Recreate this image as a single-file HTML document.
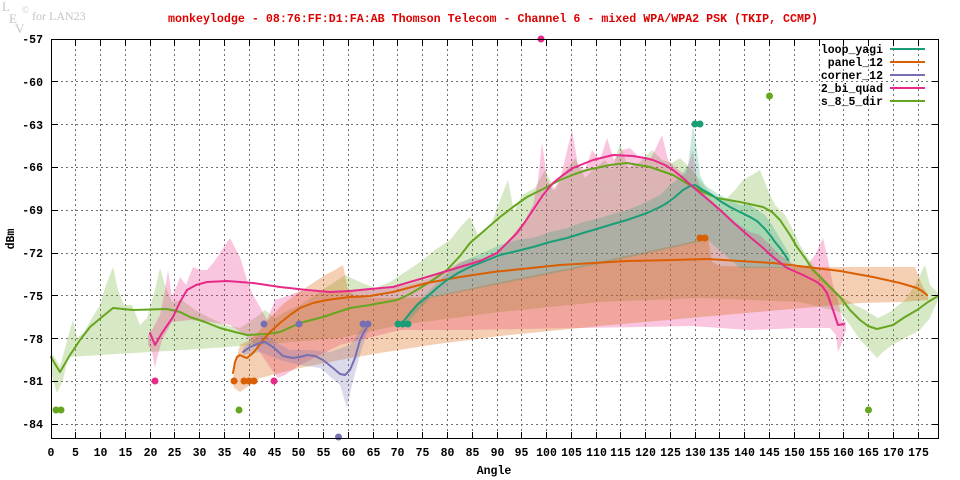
<!DOCTYPE html>
<html><head><meta charset="utf-8"><style>
html,body{margin:0;padding:0;background:#fff;}
svg{display:block;}
.t{font-family:"Liberation Mono",monospace;font-weight:bold;font-size:11.5px;fill:#000;}
</style></head><body>
<svg width="960" height="480" viewBox="0 0 960 480" xmlns="http://www.w3.org/2000/svg">
<rect width="960" height="480" fill="#fff"/>
<!-- logo -->
<g font-family="Liberation Serif, serif" fill="#c4c4c4">
<text x="2" y="11" font-size="13">L</text>
<text x="9" y="23" font-size="13">E</text>
<text x="15" y="33" font-size="13">V</text>
<text x="22" y="13" font-size="9">©</text>
<text x="32" y="20" font-size="12">for LAN23</text>
</g>
<!-- title -->
<text x="168" y="22" textLength="650" lengthAdjust="spacingAndGlyphs" font-family="Liberation Mono, monospace" font-weight="bold" font-size="11.5" fill="#dd0000">monkeylodge - 08:76:FF:D1:FA:AB Thomson Telecom - Channel 6 - mixed WPA/WPA2 PSK (TKIP, CCMP)</text>

<!-- grid -->
<g stroke="#707070" stroke-width="1" stroke-dasharray="2,3" shape-rendering="crispEdges">
<path d="M75.5 39V438M100.5 39V438M125.5 39V438M150.5 39V438M174.5 39V438M199.5 39V438M224.5 39V438M249.5 39V438M274.5 39V438M298.5 39V438M323.5 39V438M348.5 39V438M373.5 39V438M397.5 39V438M422.5 39V438M447.5 39V438M472.5 39V438M497.5 39V438M521.5 39V438M546.5 39V438M571.5 39V438M596.5 39V438M620.5 39V438M645.5 39V438M670.5 39V438M695.5 39V438M719.5 39V438M744.5 39V438M769.5 39V438M794.5 39V438M819.5 39V438M843.5 39V438M868.5 39V438M893.5 39V438M918.5 39V438"/>
<path d="M51 81.5H938M51 124.5H938M51 167.5H938M51 210.5H938M51 253.5H938M51 295.5H938M51 338.5H938M51 381.5H938M51 424.5H938"/>
</g>

<!-- fills -->
<g stroke="none">
<polygon fill="#66a61e" fill-opacity="0.26" points="51,352 55,358 60,366 66,345 70,330 73,320 77,338 84,332 92,318 100,305 106,285 113,267 118,290 124,305 132,305 140,325 147,318 155,290 160,268 165,285 172,302 182,300 195,310 210,318 225,325 240,328 255,318 265,310 275,318 285,312 300,305 315,295 330,285 345,275 360,282 375,288 390,282 405,272 420,262 435,250 450,240 462,225 470,217 478,235 490,228 500,200 508,180 514,212 522,195 535,188 545,170 555,190 565,172 575,158 585,178 595,168 605,160 612,170 620,143 628,168 640,162 652,150 662,160 672,163 680,158 690,168 700,180 712,195 725,200 735,190 743,180 752,175 760,170 768,190 775,205 785,215 793,230 800,245 808,258 818,272 830,285 842,297 855,305 865,310 878,318 890,312 905,300 915,285 925,265 930,285 938,293 938,300 930,318 920,330 905,338 892,345 883,352 877,358 870,350 860,340 850,325 840,312 800,302 700,298 600,302 500,312 400,325 340,338 280,343 240,346 200,349 150,352 100,355 68,357 63,380 57,393 53,380 51,370"/>
<polygon fill="#e7298a" fill-opacity="0.27" points="148,335 152,330 160,315 165,290 168,270 172,297 177,285 180,277 186,285 193,267 200,270 207,270 214,262 220,253 225,245 230,238 235,248 240,257 247,280 253,295 260,307 267,320 275,300 290,295 300,291 330,293 350,292 370,290 393,288 410,284 427,279 445,272 460,262 475,258 487,260 497,252 507,245 515,232 525,220 533,205 538,180 542,142 547,180 553,190 560,180 566,155 572,130 578,165 585,170 592,150 600,160 607,138 614,160 622,150 630,148 640,158 650,160 656,148 662,135 668,160 676,168 685,175 693,150 697,180 705,195 720,208 735,222 750,232 760,235 770,245 780,255 795,265 805,268 815,255 823,238 828,260 833,285 838,300 842,320 846,322 846,330 841,345 838,352 836,335 830,328 800,328 750,330 690,326 640,327 580,328 520,329 460,330 400,330 340,345 300,365 285,375 278,378 272,370 265,360 255,345 245,335 230,325 210,322 190,320 172,322 162,340 157,358 155,368 152,352 148,345"/>
<polygon fill="#d95f02" fill-opacity="0.3" points="233,380 236,360 240,345 250,340 260,330 270,318 282,305 295,295 310,285 325,275 335,270 343,265 348,290 355,296 370,298 400,298 430,297 500,282 570,268 640,253 708,238 712,262 720,266 780,267 860,267 915,267 922,285 928,295 928,300 900,302 860,303 780,310 690,318 600,326 500,336 430,345 380,353 340,360 300,368 260,378 240,392 234,388"/>
<polygon fill="#7570b3" fill-opacity="0.26" points="243,348 250,342 260,336 268,336 275,342 290,350 310,350 330,352 350,345 360,330 368,322 368,330 360,355 352,385 347,408 340,385 320,368 300,365 280,360 260,352 243,355"/>
<polygon fill="#1b9e77" fill-opacity="0.24" points="400,330 405,318 415,305 425,295 435,285 445,275 457,265 470,258 485,252 500,245 517,240 533,238 550,232 567,228 583,222 600,218 613,214 627,210 640,205 650,200 660,195 670,185 680,178 688,165 693,125 697,150 700,175 705,185 712,190 720,195 730,200 740,205 750,205 757,210 765,215 772,225 778,235 784,245 790,255 790,268 770,268 740,268 708,240 640,255 570,270 500,284 430,298 405,325"/>
</g>

<!-- lines -->
<g fill="none" stroke-width="2" stroke-linejoin="round" stroke-linecap="round">
<polyline stroke="#66a61e" points="51,357 55,364 60,372 70,355 80,340 90,327 102,317 113,308 133,310 167,309 180,312 190,317 205,322 220,328 235,332 247,335 267,334 280,332 300,323 323,317 350,308 370,305 397,300 410,294 420,288 433,280 447,270 460,256 470,243 485,230 500,217 513,207 527,197 545,188 560,180 575,174 587,170 610,165 627,163 650,167 673,175 693,187 705,193 717,198 740,202 763,207 772,212 780,220 790,235 797,247 805,258 813,270 828,285 840,297 850,310 860,320 868,326 877,329 893,325 905,317 917,310 928,302 938,296"/>
<polyline stroke="#d95f02" points="233,373 235,362 237,357 240,355 244,357 247,358 253,353 258,347 263,340 270,332 280,323 290,315 300,308 313,303 327,300 350,297 370,296 393,292 427,283 460,277 493,272 560,265 627,261 673,260 707,259 740,261 773,263 807,267 840,271 873,277 900,283 917,288 922,291 927,295"/>
<polyline stroke="#7570b3" points="243,352 250,347 260,343 265,342 273,347 283,356 293,358 300,357 307,355 315,356 323,360 333,368 340,374 345,375 350,370 355,358 360,340 364,332 368,325"/>
<polyline stroke="#1b9e77" points="403,322 410,313 418,304 427,297 437,288 447,280 458,273 470,267 485,261 500,255 517,251 533,247 550,242 567,238 583,233 600,228 613,224 627,220 647,213 660,207 667,203 675,197 683,190 690,186 695,185 703,190 712,195 720,201 730,207 740,212 750,217 757,221 765,229 770,235 775,242 780,248 785,255 788,260"/>
<polyline stroke="#e7298a" points="150,333 155,345 162,333 173,317 180,302 187,290 196,285 207,282 227,281 253,283 280,287 307,290 330,292 350,291 370,289 393,287 427,277 460,267 480,261 497,253 510,240 517,233 525,222 533,210 543,195 553,183 563,175 573,168 593,160 613,155 633,156 645,158 653,160 665,165 673,170 683,178 693,187 705,197 720,210 735,224 750,237 762,247 773,257 787,268 803,275 817,282 822,286 827,293 833,310 838,325 844,324"/>
</g>

<!-- points -->
<g>
<g fill="#e7298a"><circle cx="541" cy="39" r="3.5"/><circle cx="155" cy="381" r="3.5"/><circle cx="274" cy="381" r="3.5"/></g>
<g fill="#1b9e77"><circle cx="695" cy="124" r="3.5"/><circle cx="700" cy="124" r="3.5"/><circle cx="398" cy="324" r="3.5"/><circle cx="403" cy="324" r="3.5"/><circle cx="408" cy="324" r="3.5"/></g>
<g fill="#66a61e"><circle cx="769.5" cy="96" r="3.5"/><circle cx="56" cy="410" r="3.5"/><circle cx="61" cy="410" r="3.5"/><circle cx="239" cy="410" r="3.5"/><circle cx="868.5" cy="410" r="3.5"/></g>
<g fill="#d95f02"><circle cx="700" cy="238" r="3.5"/><circle cx="705" cy="238" r="3.5"/><circle cx="234" cy="381" r="3.5"/><circle cx="244" cy="381" r="3.5"/><circle cx="249" cy="381" r="3.5"/><circle cx="254" cy="381" r="3.5"/></g>
<g fill="#7570b3"><circle cx="264" cy="324" r="3.5"/><circle cx="299" cy="324" r="3.5"/><circle cx="363" cy="324" r="3.5"/><circle cx="368" cy="324" r="3.5"/><circle cx="338.5" cy="437" r="3.5"/></g>
</g>

<!-- frame & ticks -->
<g stroke="#000" stroke-width="1" fill="none" shape-rendering="crispEdges">
<rect x="51.5" y="39.5" width="887" height="399"/>
<path d="M75.5 438v-6M100.5 438v-6M125.5 438v-6M150.5 438v-6M174.5 438v-6M199.5 438v-6M224.5 438v-6M249.5 438v-6M274.5 438v-6M298.5 438v-6M323.5 438v-6M348.5 438v-6M373.5 438v-6M397.5 438v-6M422.5 438v-6M447.5 438v-6M472.5 438v-6M497.5 438v-6M521.5 438v-6M546.5 438v-6M571.5 438v-6M596.5 438v-6M620.5 438v-6M645.5 438v-6M670.5 438v-6M695.5 438v-6M719.5 438v-6M744.5 438v-6M769.5 438v-6M794.5 438v-6M819.5 438v-6M843.5 438v-6M868.5 438v-6M893.5 438v-6M918.5 438v-6"/>
<path d="M75.5 40v6M100.5 40v6M125.5 40v6M150.5 40v6M174.5 40v6M199.5 40v6M224.5 40v6M249.5 40v6M274.5 40v6M298.5 40v6M323.5 40v6M348.5 40v6M373.5 40v6M397.5 40v6M422.5 40v6M447.5 40v6M472.5 40v6M497.5 40v6M521.5 40v6M546.5 40v6M571.5 40v6M596.5 40v6M620.5 40v6M645.5 40v6M670.5 40v6M695.5 40v6M719.5 40v6M744.5 40v6M769.5 40v6M794.5 40v6M819.5 40v6M843.5 40v6M868.5 40v6M893.5 40v6M918.5 40v6"/>
<path d="M52 81.5h6M52 124.5h6M52 167.5h6M52 210.5h6M52 253.5h6M52 295.5h6M52 338.5h6M52 381.5h6M52 424.5h6"/>
<path d="M938 81.5h-6M938 124.5h-6M938 167.5h-6M938 210.5h-6M938 253.5h-6M938 295.5h-6M938 338.5h-6M938 381.5h-6M938 424.5h-6"/>
</g>

<!-- y labels -->
<g class="t" text-anchor="end">
<text x="43" y="43">-57</text>
<text x="43" y="86">-60</text>
<text x="43" y="129">-63</text>
<text x="43" y="171">-66</text>
<text x="43" y="214">-69</text>
<text x="43" y="257">-72</text>
<text x="43" y="300">-75</text>
<text x="43" y="343">-78</text>
<text x="43" y="385">-81</text>
<text x="43" y="428">-84</text>
</g>
<!-- x labels -->
<g class="t" text-anchor="middle">
<text x="51" y="456">0</text><text x="75.5" y="456">5</text><text x="100.5" y="456">10</text><text x="125.5" y="456">15</text><text x="150.5" y="456">20</text><text x="174.5" y="456">25</text><text x="199.5" y="456">30</text><text x="224.5" y="456">35</text><text x="249.5" y="456">40</text><text x="274.5" y="456">45</text><text x="298.5" y="456">50</text><text x="323.5" y="456">55</text><text x="348.5" y="456">60</text><text x="373.5" y="456">65</text><text x="397.5" y="456">70</text><text x="422.5" y="456">75</text><text x="447.5" y="456">80</text><text x="472.5" y="456">85</text><text x="497.5" y="456">90</text><text x="521.5" y="456">95</text><text x="546.5" y="456">100</text><text x="571.5" y="456">105</text><text x="596.5" y="456">110</text><text x="620.5" y="456">115</text><text x="645.5" y="456">120</text><text x="670.5" y="456">125</text><text x="695.5" y="456">130</text><text x="719.5" y="456">135</text><text x="744.5" y="456">140</text><text x="769.5" y="456">145</text><text x="794.5" y="456">150</text><text x="819.5" y="456">155</text><text x="843.5" y="456">160</text><text x="868.5" y="456">165</text><text x="893.5" y="456">170</text><text x="918.5" y="456">175</text>
<text x="494" y="474">Angle</text>
</g>
<text class="t" transform="translate(14,239) rotate(-90)" text-anchor="middle">dBm</text>

<!-- legend -->
<g class="t" text-anchor="end">
<text x="883" y="53">loop_yagi</text>
<text x="883" y="66">panel_12</text>
<text x="883" y="79">corner_12</text>
<text x="883" y="92">2_bi_quad</text>
<text x="883" y="105">s_8_5_dir</text>
</g>
<g stroke-width="2">
<line x1="890" y1="49" x2="925" y2="49" stroke="#1b9e77"/>
<line x1="890" y1="62" x2="925" y2="62" stroke="#d95f02"/>
<line x1="890" y1="75" x2="925" y2="75" stroke="#7570b3"/>
<line x1="890" y1="88" x2="925" y2="88" stroke="#e7298a"/>
<line x1="890" y1="101" x2="925" y2="101" stroke="#66a61e"/>
</g>
</svg>
</body></html>
